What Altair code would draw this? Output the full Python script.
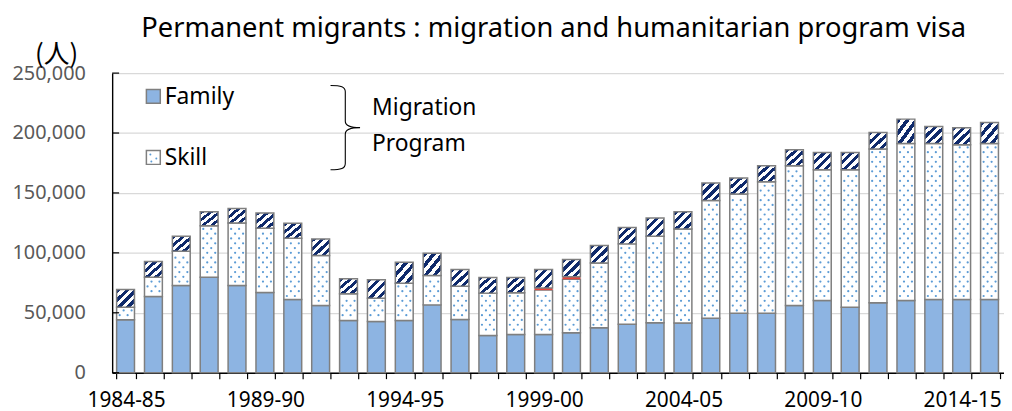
import altair as alt
import pandas as pd

years = ["1984-85", "1985-86", "1986-87", "1987-88", "1988-89", "1989-90", "1990-91", "1991-92",
         "1992-93", "1993-94", "1994-95", "1995-96", "1996-97", "1997-98", "1998-99", "1999-00",
         "2000-01", "2001-02", "2002-03", "2003-04", "2004-05", "2005-06", "2006-07", "2007-08",
         "2008-09", "2009-10", "2010-11", "2011-12", "2012-13", "2013-14", "2014-15", "2015-16"]
family = [44200, 63600, 72700, 79700, 72700, 66900, 61100, 56100, 43600, 42700, 43600, 56600,
          44400, 31100, 31900, 31900, 33300, 37500, 40500, 41700, 41400, 45500, 49700, 49700,
          56100, 60300, 54700, 58300, 60300, 61100, 61100, 61100]
skill = [10500, 16100, 28600, 43000, 52300, 53600, 51100, 41600, 22200, 19500, 31100, 24500,
         27800, 35300, 34800, 37000, 44700, 54100, 67000, 72100, 78600, 98100, 99400, 109700,
         116600, 109100, 114700, 128300, 131000, 130200, 129100, 130200]
special = [0, 0, 0, 0, 0, 0, 0, 0, 0, 0, 0, 0, 0, 0, 0, 1800, 2000, 0, 0, 0, 0, 0, 0, 0,
           0, 0, 0, 0, 0, 0, 0, 0]
humanitarian = [14700, 13000, 12500, 11700, 12100, 12800, 12500, 13900, 12500, 15300, 17500, 18600,
                13900, 13000, 12700, 15500, 14400, 14500, 13600, 15300, 14400, 14700, 13300, 13300,
                13300, 14400, 14400, 13900, 20300, 14200, 14200, 17500]
series_names = ["Family", "Skill", "Special eligibility", "Humanitarian"]
y_ticks = [0, 50000, 100000, 150000, 200000, 250000]
title_text = "Permanent migrants : migration and humanitarian program visa"
unit_text = "(人)"
legend_names = ["Family", "Skill"]
brace_text = ["Migration", "Program"]

rows = []
for i, yr in enumerate(years):
    base = 0
    for name, vals in zip(series_names, [family, skill, special, humanitarian]):
        v = vals[i]
        rows.append({"year": yr, "series": name, "lo": base, "hi": base + v})
        base += v
df = pd.DataFrame(rows)

FAM = "#8db4e2"
DOT = "#5b9bd5"
NAVY = "#0f2a6b"
RED = "#e8453c"
GREY = "#7f7f7f"
FONT = "Noto Sans"

label_years = years[::5]
x_enc = alt.X("year:N", sort=years,
              scale=alt.Scale(paddingInner=0.32, paddingOuter=0.16),
              axis=alt.Axis(title=None, labelAngle=0, labelFont=FONT, labelFontSize=21,
                            labelColor="black", labelPadding=11,
                            labelExpr="indexof(" + str(label_years) + ", datum.value) >= 0 ? datum.label : ''",
                            tickBand="extent", tickSize=6, tickColor="black", tickWidth=1.2,
                            domainColor="black", domainWidth=1.4, grid=False))
y_scale = alt.Scale(domain=[0, 250000], nice=False)
y_axis = alt.Axis(title=None, values=y_ticks, format=",d", labelFont=FONT,
                  labelFontSize=20, labelColor="#595959", labelPadding=27,
                  ticks=False, domainColor="black", domainWidth=1.4,
                  gridColor="#d9d9d9", gridWidth=1.4)


def yq(field):
    return alt.Y(field, type="quantitative", scale=y_scale, title=None, axis=y_axis)


base = alt.Chart(df)

def seg(name, **mark):
    return base.transform_filter(alt.datum.series == name).mark_bar(
        stroke=GREY, strokeWidth=1.5, **mark).encode(x=x_enc, y=yq("lo"), y2="hi:Q")

stripes = []
n = 4
for k in range(n):
    s = k / n
    h = s + 0.5 / n
    e = (k + 1) / n
    stripes += [alt.GradientStop(color=NAVY, offset=s), alt.GradientStop(color=NAVY, offset=h),
                alt.GradientStop(color="white", offset=h), alt.GradientStop(color="white", offset=e)]
hum_fill = alt.LinearGradient(gradient="linear", stops=stripes, x1=0, y1=0, x2=1, y2=1)

fam_layer = seg("Family", fill=FAM)
skill_layer = seg("Skill", fill="white")
special_layer = base.transform_filter(alt.datum.series == "Special eligibility").mark_bar(
    fill=RED, strokeWidth=0).encode(x=x_enc, y=yq("lo"), y2="hi:Q")
hum_layer = seg("Humanitarian", fill=hum_fill)

# dotted texture of the Skill segments
STEP = 4000
dots_layer = base.transform_filter(alt.datum.series == "Skill").transform_calculate(
    ys="sequence(ceil((datum.lo + 2200) / %d) * %d, datum.hi - 1800, %d)" % (STEP, STEP, STEP)
).transform_flatten(["ys"]).transform_calculate(
    cols="round(datum.ys / %d) %% 2 == 0 ? [0.16, 0.58] : [0.37, 0.79]" % STEP
).transform_flatten(["cols"]).mark_circle(color=DOT, size=5, opacity=1).encode(
    x=x_enc,
    xOffset=alt.XOffset("cols:Q", scale=alt.Scale(domain=[0, 1])),
    y=yq("ys"))

ticks_df = pd.DataFrame({"lo": y_ticks})
tick_layer = alt.Chart(ticks_df).mark_rule(color="black", strokeWidth=1.2).encode(
    y=yq("lo"), x=alt.value(0), x2=alt.value(7))


def text_layer(txt, x, y, size=23, font=FONT, align="left", baseline="middle"):
    return alt.Chart(pd.DataFrame({"t": [txt]})).mark_text(
        font=font, fontSize=size, color="black", align=align, baseline=baseline).encode(
        text="t:N", x=alt.value(x), y=alt.value(y))


title_layer = text_layer(title_text, 445, -36, size=27.5, align="center", baseline="alphabetic")
unit_layer = text_layer(unit_text, -56, -18, size=26, font="Noto Sans CJK JP", align="center")

leg_df = pd.DataFrame({"name": legend_names})
leg_sq_fam = alt.Chart(leg_df).transform_filter(alt.datum.name == "Family").mark_square(
    size=196, fill=FAM, stroke=GREY, strokeWidth=1.5, opacity=1).encode(
    x=alt.value(41.5), y=alt.value(23.5))
leg_sq_skill = alt.Chart(leg_df).transform_filter(alt.datum.name == "Skill").mark_square(
    size=196, fill="white", stroke=GREY, strokeWidth=1.5, opacity=1).encode(
    x=alt.value(41.5), y=alt.value(85))
leg_dots = []
for ddx, ddy in [(-3, -3), (3, 1), (-2, 4)]:
    leg_dots.append(alt.Chart(leg_df).transform_filter(alt.datum.name == "Skill").mark_circle(
        color=DOT, size=4, opacity=1).encode(x=alt.value(41.5 + ddx), y=alt.value(85 + ddy)))
leg_fam_txt = text_layer(legend_names[0], 53, 24)
leg_skill_txt = text_layer(legend_names[1], 53, 86)

brace_path = ("M-0.35,-1 C-0.1,-1 0,-0.97 0,-0.85 L0,-0.15 C0,-0.05 0.1,0 0.35,0 "
              "C0.1,0 0,0.05 0,0.15 L0,0.85 C0,0.97 -0.1,1 -0.35,1")
brace_layer = alt.Chart(pd.DataFrame({"b": ["Migration Program"]})).mark_point(
    shape=brace_path, size=7225, filled=False, stroke="black", strokeWidth=1.1, opacity=1).encode(
    x=alt.value(235), y=alt.value(55))
brace_txt1 = text_layer(brace_text[0], 262, 42, baseline="alphabetic")
brace_txt2 = text_layer(brace_text[1], 262, 79, baseline="alphabetic")

chart = alt.layer(
    fam_layer, skill_layer, dots_layer, special_layer, hum_layer, tick_layer,
    title_layer, unit_layer, leg_sq_fam, leg_sq_skill, *leg_dots, leg_fam_txt, leg_skill_txt,
    brace_layer, brace_txt1, brace_txt2
).properties(
    width=899, height=302,
    autosize=alt.AutoSizeParams(type="none"),
    padding={"left": 105, "top": 64, "right": 0, "bottom": 39},
).configure_view(stroke=None).configure_axis(labelFont=FONT)

chart.save("out.html", embed_options={"renderer": "svg", "actions": False})
